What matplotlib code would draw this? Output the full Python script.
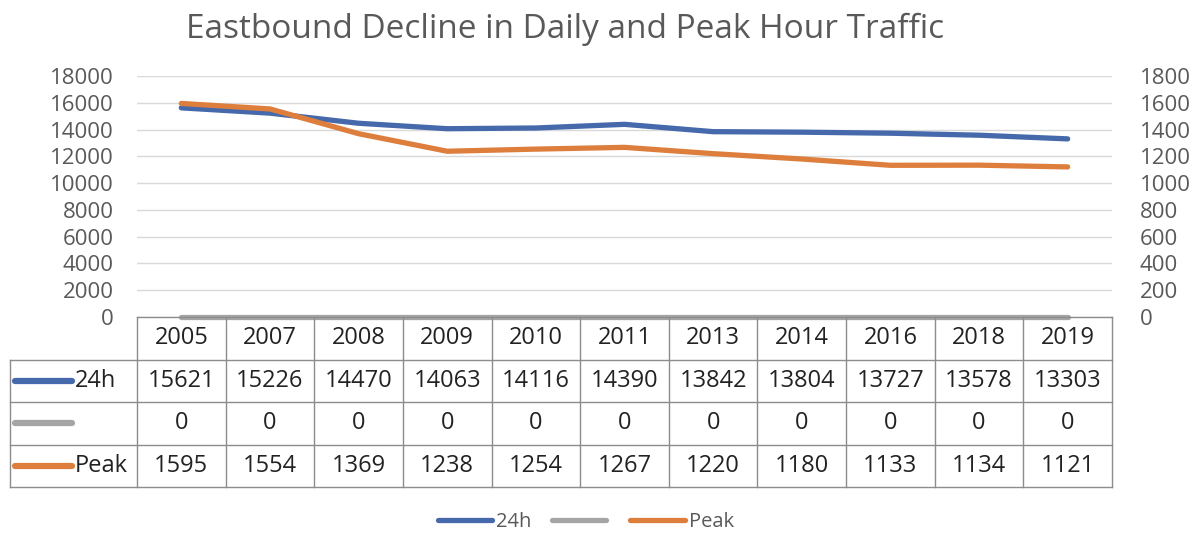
import matplotlib
matplotlib.use("Agg")
import matplotlib.pyplot as plt
from matplotlib.lines import Line2D

plt.rcParams['font.family'] = ['Open Sans', 'DejaVu Sans']

years = ['2005', '2007', '2008', '2009', '2010', '2011', '2013', '2014', '2016', '2018', '2019']
daily = [15621, 15226, 14470, 14063, 14116, 14390, 13842, 13804, 13727, 13578, 13303]
blank = [0, 0, 0, 0, 0, 0, 0, 0, 0, 0, 0]
peak = [1595, 1554, 1369, 1238, 1254, 1267, 1220, 1180, 1133, 1134, 1121]

blue = '#4569AA'
gray = '#A5A5A5'
orange = '#DE7E3C'
txt_gray = '#595959'
W, H = 1192, 533

fig = plt.figure(figsize=(W / 100, H / 100), dpi=100)

# main plot area (pixel positions)
L, R, T, B = 137, 1112, 76, 317
ax = fig.add_axes([L / W, 1 - B / H, (R - L) / W, (B - T) / H])
ax2 = ax.twinx()
x = [i + 0.5 for i in range(len(years))]

lw = 3.8
ax.plot(x, daily, color=blue, lw=lw, solid_capstyle='round', zorder=3)
ax.plot(x, blank, color=gray, lw=lw, solid_capstyle='round', zorder=3, clip_on=False)
ax2.plot(x, peak, color=orange, lw=lw, solid_capstyle='round', zorder=3)

ax.set_xlim(0, len(years))
ax.set_ylim(0, 18000)
ax2.set_ylim(0, 1800)
ax.set_yticks(range(0, 18001, 2000))
ax2.set_yticks(range(0, 1801, 200))
ax.set_xticks([])
ax.yaxis.grid(True, color='#D9D9D9', lw=1)
ax.set_axisbelow(True)
for a in (ax, ax2):
    for s in a.spines.values():
        s.set_visible(False)
    a.tick_params(axis='y', length=0, labelsize=16, labelcolor=txt_gray, pad=17)
ax2.tick_params(axis='y', pad=20)

fig.text(565 / W, 1 - 29 / H, 'Eastbound Decline in Daily and Peak Hour Traffic',
         ha='center', va='center', fontsize=24, color=txt_gray)

# data table under the chart
TL, TB = 10, 487
colw = (R - L) / len(years)
tab = fig.add_axes([TL / W, 1 - TB / H, (R - TL) / W, (TB - B) / H])
tab.set_xlim(-(L - TL) / colw, len(years))
tab.set_ylim(4, 0)
tab.axis('off')
lc = '#8C8C8C'
x0 = -(L - TL) / colw
tab.plot([0, len(years)], [0, 0], color=lc, lw=1, clip_on=False)
for r in (1, 2, 3, 4):
    tab.plot([x0, len(years)], [r, r], color=lc, lw=1, clip_on=False)
tab.plot([x0, x0], [1, 4], color=lc, lw=1, clip_on=False)
for c in range(len(years) + 1):
    tab.plot([c, c], [0, 4], color=lc, lw=1, clip_on=False)

rows = [('24h', daily, blue), ('', blank, gray), ('Peak', peak, orange)]
fs = 17
for i, yr in enumerate(years):
    tab.text(i + 0.5, 0.5, yr, ha='center', va='center', fontsize=fs, color='#222222')
for r, (name, vals, col) in enumerate(rows, start=1):
    k0 = -(L - 15) / colw
    k1 = -(L - 72) / colw
    tab.plot([k0, k1], [r + 0.5, r + 0.5], color=col, lw=4.5, solid_capstyle='round', clip_on=False)
    tab.text(k1 + 0.03, r + 0.5, name, ha='left', va='center', fontsize=fs, color='#222222')
    for i, v in enumerate(vals):
        tab.text(i + 0.5, r + 0.5, str(v), ha='center', va='center', fontsize=fs, color='#222222')

handles = [Line2D([], [], color=c, lw=lw, solid_capstyle='round') for c in (blue, gray, orange)]
fig.legend(handles, ['24h', '', 'Peak'], loc='center', bbox_to_anchor=(586 / W, 1 - 522 / H),
           ncol=3, frameon=False, fontsize=14.5, labelcolor=txt_gray,
           handlelength=2.7, handletextpad=0.2, columnspacing=1.0)

fig.savefig('out.png', dpi=100)
